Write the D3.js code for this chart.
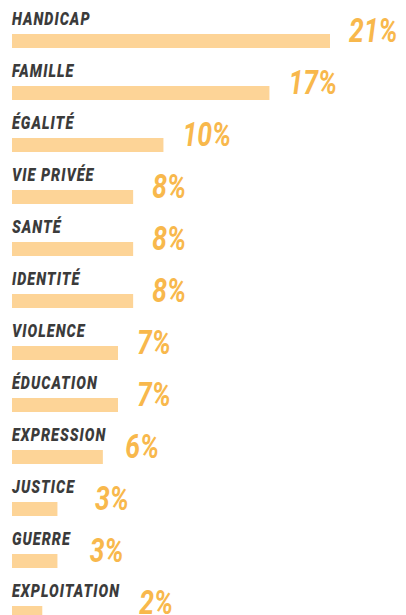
<!DOCTYPE html>
<html>
<head>
<meta charset="utf-8">
<script src="https://cdn.jsdelivr.net/npm/d3@7"></script>
<style>
  html, body { margin: 0; padding: 0; background: #ffffff; }
  svg { display: block; }
</style>
</head>
<body>
<script>
// Thèmes et parts (%)
const categories = ["HANDICAP", "FAMILLE", "ÉGALITÉ", "VIE PRIVÉE", "SANTÉ", "IDENTITÉ",
                    "VIOLENCE", "ÉDUCATION", "EXPRESSION", "JUSTICE", "GUERRE", "EXPLOITATION"];
const values = [21, 17, 10, 8, 8, 8, 7, 7, 6, 3, 3, 2];

const width = 406, height = 615;
const svg = d3.select("body").append("svg")
  .attr("width", width).attr("height", height);

const x = d3.scaleLinear().domain([0, 21]).range([12, 330]);
const y = d3.scaleBand().domain(categories).range([8, 8 + 52 * categories.length]).paddingInner(0);

const FONT = "Roboto, 'DejaVu Sans', sans-serif";
const labelScale = 0.8;    // condensed look for the theme names
const valueScale = 0.78;   // condensed look for the percentages

const rows = svg.selectAll("g.row")
  .data(categories.map((c, i) => ({ cat: c, v: values[i] })))
  .join("g").attr("class", "row")
  .attr("transform", d => `translate(0,${y(d.cat)})`);

// Libellé du thème
const labels = rows.append("text")
  .attr("transform", `translate(12,17) scale(${labelScale},1)`)
  .attr("font-family", FONT)
  .attr("font-weight", 900).attr("font-style", "italic")
  .attr("font-size", 18).attr("letter-spacing", 1.3)
  .attr("fill", "#3b3b3b")
  .text(d => d.cat);

// Barre
rows.append("rect")
  .attr("x", x(0)).attr("y", 26)
  .attr("width", d => x(d.v) - x(0)).attr("height", 14)
  .attr("fill", "#fdd497");

// Valeur : après la barre, ou après le libellé s'il dépasse
labels.each(function (d) { d.labelEnd = 12 + this.getBBox().width * labelScale; });

rows.append("text")
  .attr("transform", d => `translate(${Math.max(x(d.v), d.labelEnd) + 19},34) scale(${valueScale},1)`)
  .attr("font-family", FONT)
  .attr("font-weight", "bold").attr("font-style", "italic")
  .attr("font-size", 34)
  .attr("fill", "#f8b84c")
  .text(d => d.v + "%");
</script>
</body>
</html>
